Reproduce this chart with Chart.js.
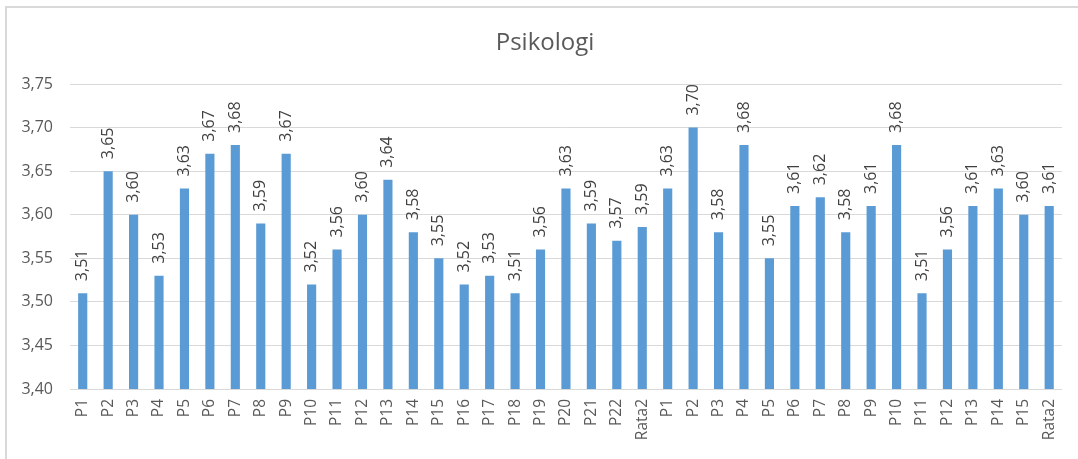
<!DOCTYPE html>
<html>
<head>
<meta charset="utf-8">
<script src="https://cdn.jsdelivr.net/npm/chart.js@4.4.0/dist/chart.umd.min.js"></script>
<style>
  html, body { margin: 0; padding: 0; background: #ffffff; }
  #wrap { position: relative; width: 1078px; height: 459px; }
  #frame { position: absolute; left: 5px; top: 6px; right: 0; bottom: 0;
           border-top: 2px solid #d9d9d9; border-left: 2px solid #d9d9d9; pointer-events: none; }
  canvas { position: absolute; left: 0; top: 0; }
</style>
</head>
<body>
<div id="wrap">
  <canvas id="c" width="1078" height="459"></canvas>
  <div id="frame"></div>
</div>
<script>
const chartTitle = 'Psikologi';
const categories = [
  'P1','P2','P3','P4','P5','P6','P7','P8','P9','P10','P11','P12','P13','P14','P15','P16','P17','P18','P19','P20','P21','P22','Rata2',
  'P1','P2','P3','P4','P5','P6','P7','P8','P9','P10','P11','P12','P13','P14','P15','Rata2'
];
const values = [
  3.51, 3.65, 3.60, 3.53, 3.63, 3.67, 3.68, 3.59, 3.67, 3.52, 3.56, 3.60, 3.64, 3.58, 3.55, 3.52, 3.53, 3.51, 3.56, 3.63, 3.59, 3.57, 3.586,
  3.63, 3.70, 3.58, 3.68, 3.55, 3.61, 3.62, 3.58, 3.61, 3.68, 3.51, 3.56, 3.61, 3.63, 3.60, 3.61
];
const yMin = 3.40;
const yMax = 3.75;
const yStep = 0.05;

const fmt = v => v.toFixed(2).replace('.', ',');
const FONT = "'Open Sans', 'Noto Sans', sans-serif";

const dataLabels = {
  id: 'dataLabels',
  afterDatasetsDraw(chart) {
    const ctx = chart.ctx;
    const meta = chart.getDatasetMeta(0);
    ctx.save();
    ctx.fillStyle = '#404040';
    ctx.font = '16px ' + FONT;
    ctx.textAlign = 'left';
    ctx.textBaseline = 'middle';
    meta.data.forEach((bar, i) => {
      ctx.save();
      ctx.translate(bar.x, bar.y - 12);
      ctx.rotate(-Math.PI / 2);
      ctx.fillText(fmt(chart.data.datasets[0].data[i]), 0, 0);
      ctx.restore();
    });
    ctx.restore();
  }
};

const titlePlugin = {
  id: 'customTitle',
  afterDraw(chart) {
    const ctx = chart.ctx;
    ctx.save();
    ctx.fillStyle = '#595959';
    ctx.font = '24px ' + FONT;
    ctx.textAlign = 'center';
    ctx.textBaseline = 'middle';
    ctx.fillText(chartTitle, 545, 43);
    ctx.restore();
  }
};

new Chart(document.getElementById('c'), {
  type: 'bar',
  data: {
    labels: categories,
    datasets: [{
      data: values,
      backgroundColor: '#5b9bd5',
      borderWidth: 0,
      categoryPercentage: 1.0,
      barPercentage: 0.36
    }]
  },
  options: {
    responsive: false,
    animation: false,
    layout: { padding: { left: 0, right: 16, top: 84, bottom: 0 } },
    plugins: {
      legend: { display: false },
      tooltip: { enabled: false },
      title: { display: false }
    },
    scales: {
      x: {
        grid: { display: false, drawTicks: false },
        border: { display: true, color: '#d9d9d9', width: 1 },
        ticks: {
          color: '#595959',
          font: { family: FONT, size: 15.5 },
          minRotation: 90, maxRotation: 90,
          autoSkip: false,
          padding: 10
        },
        afterFit(scale) { scale.height = 70; }
      },
      y: {
        min: yMin, max: yMax,
        grid: { color: '#d9d9d9', lineWidth: 1, drawTicks: false, tickLength: 0 },
        border: { display: false },
        ticks: {
          stepSize: yStep,
          color: '#595959',
          font: { family: FONT, size: 16 },
          padding: 17,
          callback: v => fmt(v)
        },
        afterFit(scale) { scale.width = 70; }
      }
    }
  },
  plugins: [dataLabels, titlePlugin]
});
</script>
</body>
</html>
